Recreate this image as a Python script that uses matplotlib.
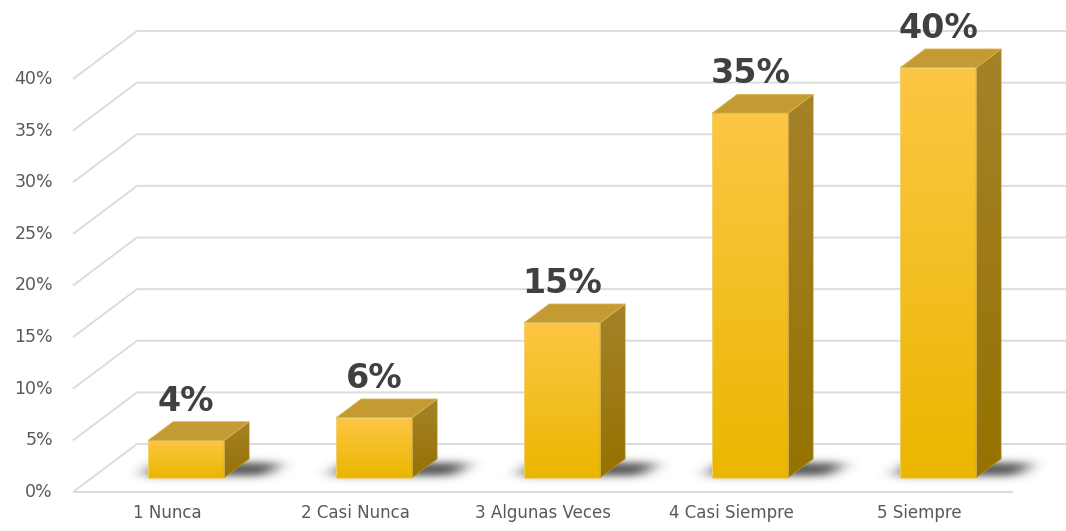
import numpy as np
import matplotlib
matplotlib.use("Agg")
import matplotlib.pyplot as plt
from matplotlib.patches import Polygon
from matplotlib.colors import to_rgb

categories = ["1 Nunca", "2 Casi Nunca", "3 Algunas Veces", "4 Casi Siempre", "5 Siempre"]
values = [3.6, 5.8, 15.0, 35.3, 39.7]
ticks = [0, 5, 10, 15, 20, 25, 30, 35, 40]

W, H = 1066, 531
fig = plt.figure(figsize=(W / 100, H / 100), dpi=100)
ax = fig.add_axes([0, 0, 1, 1])

# front plane geometry (pixels)
px_cat = 188.0
px_pct = 10.325
x0_px = 167.0
y0_px = 492.0
xlim = (-x0_px / px_cat, (W - x0_px) / px_cat)
ylim = ((y0_px - H) / px_pct, y0_px / px_pct)

# oblique depth offset of the whole floor, in data units
DX = 64 / px_cat
DY = 48 / px_pct

x_left = -0.5
x_right = len(categories) - 0.5

# gridlines: side wall slant + back wall
grid_kw = dict(color="#dcdcdc", lw=1.4, zorder=1, solid_capstyle="butt")
for t in ticks:
    ax.plot([x_left, x_left + DX, xlim[1]], [t, t + DY, t + DY], **grid_kw)
ax.plot([x_left, x_right], [0, 0], **grid_kw)

# bar depth placement
d0, d1 = 0.30, 0.69
bw = 76 / px_cat
ddx = (d1 - d0) * DX
ddy = (d1 - d0) * DY


def vgrad(c_top, c_bot, n=256):
    a = np.array(to_rgb(c_top))
    b = np.array(to_rgb(c_bot))
    t = np.linspace(0, 1, n)[:, None]
    return (a * (1 - t) + b * t)[:, None, :]


# soft shadows on the floor
gx = np.linspace(x_left, x_right + 0.4, 1500)
gy = np.linspace(0, DY, 120)
GX, GY = np.meshgrid(gx, gy)
depth = GY / DY
sx = GX - depth * DX
mask = np.zeros_like(GX)
for i in range(len(values)):
    inside = ((sx > i - bw / 2 - 0.05) & (sx < i + bw / 2 + 0.20)
              & (depth > d0 + 0.04) & (depth < d1 - 0.08))
    mask[inside] = 1.0


def blur(arr, sigma, axis):
    r = int(3 * sigma)
    k = np.exp(-0.5 * (np.arange(-r, r + 1) / sigma) ** 2)
    k /= k.sum()
    return np.apply_along_axis(lambda m: np.convolve(m, k, mode="same"), axis, arr)


cell_x = (gx[1] - gx[0]) * px_cat
cell_y = (gy[1] - gy[0]) * px_pct
mask = blur(mask, 9 / cell_x, 1)
mask = blur(mask, 4 / cell_y, 0)
shadow = np.zeros(mask.shape + (4,))
shadow[..., :3] = 0.2
shadow[..., 3] = np.clip(mask * 0.85, 0, 1)
ax.imshow(shadow, extent=[gx[0], gx[-1], gy[0], gy[-1]], origin="lower",
          aspect="auto", zorder=2, interpolation="bilinear")

# bars
xs = [i + d0 * DX for i in range(len(values))]
base = d0 * DY
bars = ax.bar(xs, values, width=bw, bottom=base, color="none",
              edgecolor="#f2d37e", lw=0.6, zorder=4)

for xc, v, bar in zip(xs, values, bars):
    xl, xr = xc - bw / 2, xc + bw / 2
    top = base + v
    # front face gradient
    ax.imshow(vgrad("#fdc644", "#eab700"), extent=[xl, xr, base, top],
              aspect="auto", zorder=3, interpolation="bicubic")
    # side face
    side = Polygon([(xr, base), (xr, top), (xr + ddx, top + ddy), (xr + ddx, base + ddy)],
                   closed=True, facecolor="none", edgecolor="#b8942f", lw=0.5, zorder=4)
    ax.add_patch(side)
    im = ax.imshow(vgrad("#a58229", "#957200"), extent=[xr, xr + ddx, base, top + ddy],
                   aspect="auto", zorder=3, interpolation="bicubic")
    im.set_clip_path(side)
    # top face
    ax.add_patch(Polygon([(xl, top), (xr, top), (xr + ddx, top + ddy), (xl + ddx, top + ddy)],
                         closed=True, facecolor="#c49a33", edgecolor="#d9b652",
                         lw=0.6, zorder=4))
    # data label
    ax.text(xc, top + ddy + 0.4, f"{v:.0f}%", ha="center", va="bottom",
            fontsize=24, fontweight="bold", color="#404040", zorder=5)

# axis labels
for t in ticks:
    ax.text(x_left - 20 / px_cat, t, f"{t}%", ha="right", va="center",
            fontsize=12.5, color="#595959")
for i, c in enumerate(categories):
    ax.text(i, (y0_px - 513) / px_pct, c, ha="center", va="center",
            fontsize=12, color="#595959")

ax.set_xlim(*xlim)
ax.set_ylim(*ylim)
ax.axis("off")

fig.savefig("out.png", dpi=100)
